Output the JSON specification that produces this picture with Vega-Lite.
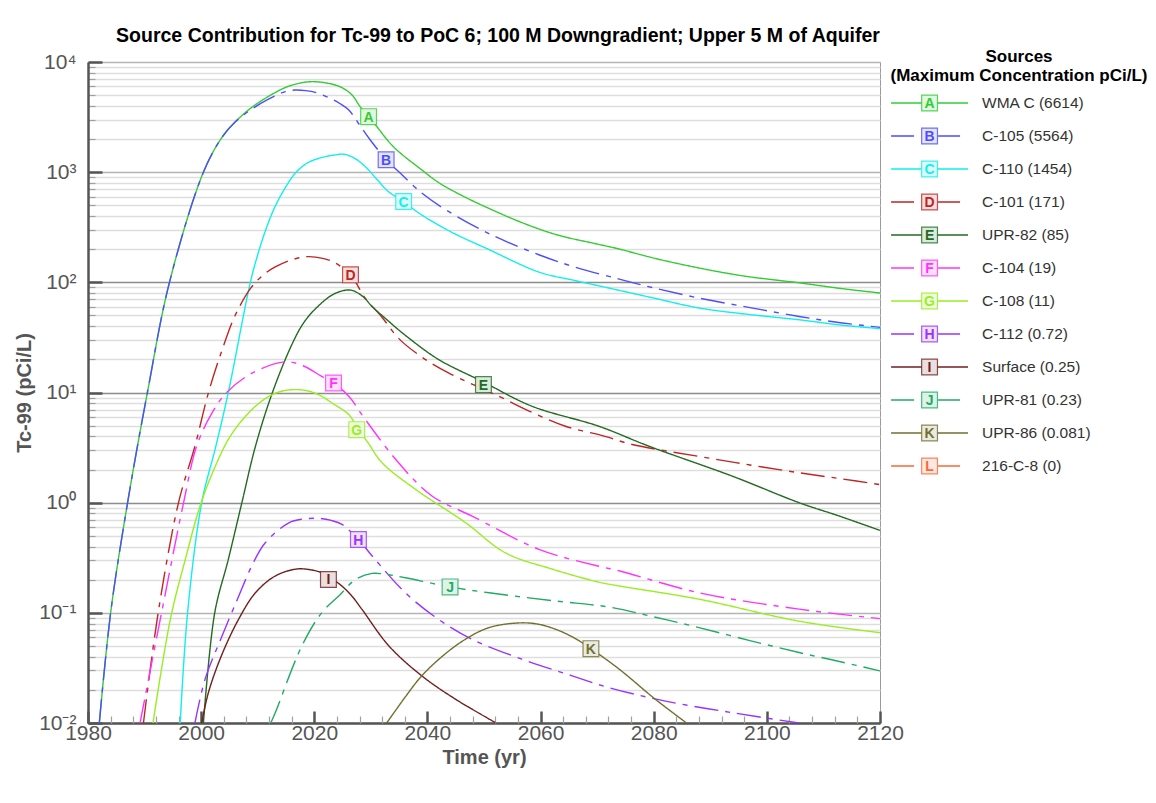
{
  "$schema": "https://vega.github.io/schema/vega-lite/v6.json",
  "background": "white",
  "padding": {"left": 14, "top": 25, "right": 0, "bottom": 0},
  "bounds": "flush",
  "spacing": 9,
  "config": {"font": "Liberation Sans", "view": {"stroke": null}},
  "datasets": {
    "curves": [
      {"s":"A","year":1982.0,"c":0.01},{"s":"A","year":1984.0,"c":0.1},{"s":"A","year":1987.0,"c":1},{"s":"A","year":1990.5,"c":10},{"s":"A","year":1994.4,"c":100},{"s":"A","year":2000.4,"c":1000},{"s":"A","year":2003.6,"c":2040},{"s":"A","year":2006.0,"c":2850},{"s":"A","year":2009.0,"c":3890},{"s":"A","year":2013.0,"c":5250},{"s":"A","year":2015.5,"c":6030},{"s":"A","year":2019.0,"c":6614},{"s":"A","year":2022.5,"c":6400},{"s":"A","year":2024.9,"c":5850},{"s":"A","year":2026.7,"c":5000},{"s":"A","year":2028.1,"c":3935},{"s":"A","year":2030.8,"c":2690},{"s":"A","year":2034.0,"c":1700},{"s":"A","year":2039.0,"c":1048},{"s":"A","year":2042.0,"c":804},{"s":"A","year":2046.0,"c":617},{"s":"A","year":2050.9,"c":468},{"s":"A","year":2057.3,"c":339},{"s":"A","year":2063.0,"c":269},{"s":"A","year":2070.3,"c":221},{"s":"A","year":2074.0,"c":200},{"s":"A","year":2080.0,"c":166},{"s":"A","year":2088.0,"c":135},{"s":"A","year":2096.0,"c":114},{"s":"A","year":2105.7,"c":99},{"s":"A","year":2113.0,"c":88},{"s":"A","year":2120.0,"c":80},
      {"s":"B","year":1982.0,"c":0.01},{"s":"B","year":1984.0,"c":0.1},{"s":"B","year":1987.0,"c":1},{"s":"B","year":1990.5,"c":10},{"s":"B","year":1994.4,"c":100},{"s":"B","year":2000.4,"c":1000},{"s":"B","year":2003.6,"c":2040},{"s":"B","year":2006.0,"c":2850},{"s":"B","year":2009.0,"c":3750},{"s":"B","year":2011.9,"c":4600},{"s":"B","year":2014.5,"c":5300},{"s":"B","year":2016.6,"c":5564},{"s":"B","year":2018.5,"c":5500},{"s":"B","year":2020.2,"c":5300},{"s":"B","year":2022.8,"c":4680},{"s":"B","year":2024.5,"c":4200},{"s":"B","year":2026.1,"c":3670},{"s":"B","year":2027.8,"c":2780},{"s":"B","year":2029.9,"c":1960},{"s":"B","year":2032.7,"c":1300},{"s":"B","year":2034.9,"c":1014},{"s":"B","year":2039.0,"c":646},{"s":"B","year":2043.2,"c":457},{"s":"B","year":2051.0,"c":275},{"s":"B","year":2059.7,"c":178},{"s":"B","year":2066.0,"c":138},{"s":"B","year":2073.9,"c":107},{"s":"B","year":2080.0,"c":89},{"s":"B","year":2088.0,"c":72},{"s":"B","year":2097.0,"c":59},{"s":"B","year":2105.7,"c":49},{"s":"B","year":2113.0,"c":43},{"s":"B","year":2120.0,"c":39},
      {"s":"C","year":1996.3,"c":0.01},{"s":"C","year":1997.6,"c":0.1},{"s":"C","year":2000.1,"c":1},{"s":"C","year":2002.6,"c":3.25},{"s":"C","year":2004.8,"c":10},{"s":"C","year":2008.7,"c":100},{"s":"C","year":2010.0,"c":178},{"s":"C","year":2011.3,"c":288},{"s":"C","year":2013.0,"c":479},{"s":"C","year":2015.0,"c":741},{"s":"C","year":2016.8,"c":1000},{"s":"C","year":2019.0,"c":1230},{"s":"C","year":2021.5,"c":1365},{"s":"C","year":2023.5,"c":1430},{"s":"C","year":2025.2,"c":1454},{"s":"C","year":2027.0,"c":1350},{"s":"C","year":2029.0,"c":1125},{"s":"C","year":2031.0,"c":870},{"s":"C","year":2033.1,"c":667},{"s":"C","year":2035.8,"c":541},{"s":"C","year":2038.5,"c":425},{"s":"C","year":2044.0,"c":290},{"s":"C","year":2050.9,"c":198},{"s":"C","year":2059.7,"c":124},{"s":"C","year":2066.0,"c":104},{"s":"C","year":2070.3,"c":93},{"s":"C","year":2080.0,"c":72},{"s":"C","year":2088.0,"c":58.5},{"s":"C","year":2097.0,"c":51},{"s":"C","year":2105.7,"c":45.7},{"s":"C","year":2113.0,"c":41},{"s":"C","year":2120.0,"c":38},
      {"s":"D","year":1989.8,"c":0.01},{"s":"D","year":1992.4,"c":0.1},{"s":"D","year":1996.0,"c":1},{"s":"D","year":1998.9,"c":3.25},{"s":"D","year":2001.3,"c":10},{"s":"D","year":2003.9,"c":26},{"s":"D","year":2006.0,"c":50},{"s":"D","year":2008.8,"c":89},{"s":"D","year":2011.0,"c":117},{"s":"D","year":2013.1,"c":138},{"s":"D","year":2016.0,"c":160},{"s":"D","year":2018.7,"c":171},{"s":"D","year":2021.5,"c":165},{"s":"D","year":2023.7,"c":150},{"s":"D","year":2026.4,"c":117},{"s":"D","year":2029.0,"c":72},{"s":"D","year":2032.0,"c":48},{"s":"D","year":2034.9,"c":31},{"s":"D","year":2039.0,"c":21},{"s":"D","year":2043.8,"c":15},{"s":"D","year":2052.6,"c":9.25},{"s":"D","year":2058.5,"c":6.6},{"s":"D","year":2064.4,"c":4.94},{"s":"D","year":2071.4,"c":4.0},{"s":"D","year":2076.2,"c":3.37},{"s":"D","year":2088.0,"c":2.63},{"s":"D","year":2097.0,"c":2.2},{"s":"D","year":2105.7,"c":1.87},{"s":"D","year":2113.0,"c":1.65},{"s":"D","year":2120.0,"c":1.46},
      {"s":"E","year":2000.4,"c":0.01},{"s":"E","year":2002.4,"c":0.1},{"s":"E","year":2004.8,"c":0.305},{"s":"E","year":2007.2,"c":1},{"s":"E","year":2009.6,"c":3.25},{"s":"E","year":2012.6,"c":10},{"s":"E","year":2016.0,"c":27},{"s":"E","year":2018.0,"c":42},{"s":"E","year":2020.2,"c":57.5},{"s":"E","year":2023.5,"c":78.5},{"s":"E","year":2026.4,"c":85},{"s":"E","year":2028.5,"c":75},{"s":"E","year":2030.2,"c":60.5},{"s":"E","year":2033.0,"c":45},{"s":"E","year":2036.1,"c":33},{"s":"E","year":2042.0,"c":19.9},{"s":"E","year":2049.7,"c":12.6},{"s":"E","year":2058.5,"c":7.5},{"s":"E","year":2070.3,"c":4.94},{"s":"E","year":2079.2,"c":3.25},{"s":"E","year":2093.9,"c":1.74},{"s":"E","year":2105.7,"c":1.0},{"s":"E","year":2113.0,"c":0.75},{"s":"E","year":2120.0,"c":0.56},
      {"s":"F","year":1989.2,"c":0.01},{"s":"F","year":1993.0,"c":0.1},{"s":"F","year":1996.9,"c":1},{"s":"F","year":1999.2,"c":3.25},{"s":"F","year":2001.9,"c":6.5},{"s":"F","year":2004.5,"c":10},{"s":"F","year":2009.0,"c":15},{"s":"F","year":2014.9,"c":19},{"s":"F","year":2018.0,"c":17.5},{"s":"F","year":2021.3,"c":14},{"s":"F","year":2023.4,"c":12.2},{"s":"F","year":2026.1,"c":9.25},{"s":"F","year":2029.0,"c":5.7},{"s":"F","year":2034.9,"c":2.3},{"s":"F","year":2040.8,"c":1.15},{"s":"F","year":2047.9,"c":0.755},{"s":"F","year":2059.7,"c":0.377},{"s":"F","year":2070.3,"c":0.265},{"s":"F","year":2074.0,"c":0.24},{"s":"F","year":2088.0,"c":0.152},{"s":"F","year":2105.7,"c":0.108},{"s":"F","year":2120.0,"c":0.0886},
      {"s":"G","year":1991.5,"c":0.01},{"s":"G","year":1992.7,"c":0.025},{"s":"G","year":1994.8,"c":0.1},{"s":"G","year":1997.2,"c":0.305},{"s":"G","year":1999.8,"c":0.93},{"s":"G","year":2002.5,"c":2.14},{"s":"G","year":2005.4,"c":4.2},{"s":"G","year":2009.6,"c":7.5},{"s":"G","year":2013.0,"c":9.8},{"s":"G","year":2016.0,"c":10.6},{"s":"G","year":2019.0,"c":10.3},{"s":"G","year":2021.3,"c":9.25},{"s":"G","year":2023.1,"c":8.05},{"s":"G","year":2026.1,"c":6.3},{"s":"G","year":2027.5,"c":4.9},{"s":"G","year":2029.5,"c":3.5},{"s":"G","year":2032.0,"c":2.3},{"s":"G","year":2037.9,"c":1.32},{"s":"G","year":2046.7,"c":0.66},{"s":"G","year":2053.8,"c":0.35},{"s":"G","year":2062.0,"c":0.25},{"s":"G","year":2070.3,"c":0.19},{"s":"G","year":2074.0,"c":0.175},{"s":"G","year":2088.0,"c":0.133},{"s":"G","year":2105.7,"c":0.084},{"s":"G","year":2120.0,"c":0.066},
      {"s":"H","year":1998.9,"c":0.01},{"s":"H","year":2000.7,"c":0.025},{"s":"H","year":2003.6,"c":0.06},{"s":"H","year":2006.6,"c":0.14},{"s":"H","year":2009.0,"c":0.27},{"s":"H","year":2011.3,"c":0.43},{"s":"H","year":2015.5,"c":0.657},{"s":"H","year":2018.0,"c":0.71},{"s":"H","year":2020.8,"c":0.72},{"s":"H","year":2023.0,"c":0.69},{"s":"H","year":2024.9,"c":0.635},{"s":"H","year":2027.8,"c":0.463},{"s":"H","year":2030.2,"c":0.33},{"s":"H","year":2036.1,"c":0.152},{"s":"H","year":2042.0,"c":0.087},{"s":"H","year":2047.9,"c":0.0575},{"s":"H","year":2056.7,"c":0.038},{"s":"H","year":2065.6,"c":0.0268},{"s":"H","year":2072.0,"c":0.021},{"s":"H","year":2082.1,"c":0.0158},{"s":"H","year":2093.9,"c":0.0124},{"s":"H","year":2105.7,"c":0.01},
      {"s":"I","year":2000.1,"c":0.01},{"s":"I","year":2001.3,"c":0.019},{"s":"I","year":2003.6,"c":0.041},{"s":"I","year":2006.6,"c":0.087},{"s":"I","year":2009.6,"c":0.152},{"s":"I","year":2013.1,"c":0.216},{"s":"I","year":2016.9,"c":0.25},{"s":"I","year":2019.5,"c":0.245},{"s":"I","year":2021.3,"c":0.231},{"s":"I","year":2022.5,"c":0.21},{"s":"I","year":2024.3,"c":0.185},{"s":"I","year":2026.5,"c":0.145},{"s":"I","year":2028.4,"c":0.108},{"s":"I","year":2033.2,"c":0.05},{"s":"I","year":2039.0,"c":0.0268},{"s":"I","year":2045.0,"c":0.0164},{"s":"I","year":2052.0,"c":0.0101},
      {"s":"J","year":2012.3,"c":0.01},{"s":"J","year":2013.1,"c":0.0124},{"s":"J","year":2017.8,"c":0.05},{"s":"J","year":2021.3,"c":0.1},{"s":"J","year":2024.6,"c":0.147},{"s":"J","year":2027.3,"c":0.201},{"s":"J","year":2030.2,"c":0.228},{"s":"J","year":2033.0,"c":0.222},{"s":"J","year":2036.1,"c":0.208},{"s":"J","year":2044.0,"c":0.172},{"s":"J","year":2050.9,"c":0.152},{"s":"J","year":2062.7,"c":0.128},{"s":"J","year":2072.0,"c":0.113},{"s":"J","year":2080.0,"c":0.092},{"s":"J","year":2088.0,"c":0.0735},{"s":"J","year":2097.0,"c":0.056},{"s":"J","year":2105.7,"c":0.0436},{"s":"J","year":2113.0,"c":0.036},{"s":"J","year":2120.0,"c":0.0297},
      {"s":"K","year":2032.8,"c":0.01},{"s":"K","year":2036.0,"c":0.017},{"s":"K","year":2039.0,"c":0.0268},{"s":"K","year":2042.8,"c":0.041},{"s":"K","year":2046.7,"c":0.0575},{"s":"K","year":2050.9,"c":0.0735},{"s":"K","year":2056.2,"c":0.081},{"s":"K","year":2059.5,"c":0.079},{"s":"K","year":2062.7,"c":0.0708},{"s":"K","year":2066.0,"c":0.059},{"s":"K","year":2068.9,"c":0.0473},{"s":"K","year":2073.9,"c":0.0308},{"s":"K","year":2080.3,"c":0.0164},{"s":"K","year":2085.7,"c":0.0101}
    ],
    "labels": [
      {"s":"A","year":2029.6,"c":3190},{"s":"B","year":2032.7,"c":1295},{"s":"C","year":2035.8,"c":541},{"s":"D","year":2026.4,"c":117},{"s":"E","year":2049.9,"c":11.8},{"s":"F","year":2023.4,"c":12.2},{"s":"G","year":2027.5,"c":4.6},{"s":"H","year":2027.8,"c":0.463},{"s":"I","year":2022.5,"c":0.201},{"s":"J","year":2044.0,"c":0.172},{"s":"K","year":2068.9,"c":0.0473}
    ],
    "legend": [
      {"s":"A","name":"WMA C (6614)"},{"s":"B","name":"C-105 (5564)"},{"s":"C","name":"C-110 (1454)"},{"s":"D","name":"C-101 (171)"},{"s":"E","name":"UPR-82 (85)"},{"s":"F","name":"C-104 (19)"},{"s":"G","name":"C-108 (11)"},{"s":"H","name":"C-112 (0.72)"},{"s":"I","name":"Surface (0.25)"},{"s":"J","name":"UPR-81 (0.23)"},{"s":"K","name":"UPR-86 (0.081)"},{"s":"L","name":"216-C-8 (0)"}
    ]
  },
  "resolve": {"scale": {"x": "independent", "y": "independent", "color": "independent", "strokeDash": "independent", "fill": "independent", "stroke": "independent"}},
  "hconcat": [
    {
      "width": 792,
      "height": 661,
      "view": {"stroke": "#9a9a9a", "strokeWidth": 1},
      "title": {"text": "Source Contribution for Tc-99 to PoC 6; 100 M Downgradient; Upper 5 M of Aquifer", "fontSize": 19.5, "fontWeight": "bold", "color": "#000000", "dx": 14, "offset": 5, "font": "Liberation Sans"},
      "resolve": {"axis": {"x": "independent"}},
      "layer": [
        {
          "data": {"name": "curves"},
          "mark": {"type": "line", "strokeWidth": 1.4, "clip": true, "interpolate": "catmull-rom"},
          "encoding": {
            "x": {"field": "year", "type": "quantitative", "scale": {"domain": [1980, 2120], "nice": false, "zero": false},
              "axis": {
                "orient": "bottom",
                "values": [1980,2000,2020,2040,2060,2080,2100,2120],
                "format": "d",
                "tickSize": -12, "tickColor": "#555555", "tickWidth": 2.5,
                "domainColor": "#555555", "domainWidth": 2.5,
                "grid": false,
                "labelFontSize": 21, "labelColor": "#555555", "labelFont": "Liberation Sans", "labelPadding": 11,
                "labelFlush": false, "labelOverlap": false, "labelBound": false,
                "title": "Time (yr)", "titleFontSize": 20, "titleFontWeight": "bold", "titleColor": "#555555", "titleFont": "Liberation Sans", "titlePadding": 4
              }
            },
            "y": {"field": "c", "type": "quantitative", "scale": {"type": "log", "domain": [0.01, 10000], "nice": false},
              "axis": {
                "values": [0.01,0.02,0.03,0.04,0.05,0.06,0.07,0.08,0.09,0.1,0.2,0.3,0.4,0.5,0.6,0.7,0.8,0.9,1,2,3,4,5,6,7,8,9,10,20,30,40,50,60,70,80,90,100,200,300,400,500,600,700,800,900,1000,2000,3000,4000,5000,6000,7000,8000,9000,10000],
                "labelExpr": "abs(log(datum.value)/LN10 - round(log(datum.value)/LN10)) < 0.001 ? ['10⁻²','10⁻¹','10⁰','10¹','10²','10³','10⁴'][round(log(datum.value)/LN10)+2] : ''",
                "tickSize": {"condition": {"test": "abs(log(datum.value)/LN10 - round(log(datum.value)/LN10)) < 0.001", "value": -14}, "value": -7},
                "tickColor": {"condition": {"test": "abs(log(datum.value)/LN10 - round(log(datum.value)/LN10)) < 0.001", "value": "#555555"}, "value": "#a0a0a0"},
                "tickWidth": {"condition": {"test": "abs(log(datum.value)/LN10 - round(log(datum.value)/LN10)) < 0.001", "value": 2.5}, "value": 1.2},
                "domainColor": "#555555", "domainWidth": 2.5,
                "grid": true,
                "gridColor": {"condition": [{"test": "datum.value == 1 || datum.value == 10 || datum.value == 100", "value": "#8c8c8c"}, {"test": "abs(log(datum.value)/LN10 - round(log(datum.value)/LN10)) < 0.001", "value": "#b4b4b4"}], "value": "#dedede"},
                "gridWidth": {"condition": {"test": "abs(log(datum.value)/LN10 - round(log(datum.value)/LN10)) < 0.001", "value": 1.3}, "value": 1.6},
                "labelFontSize": 21, "labelColor": "#555555", "labelFont": "Liberation Sans", "labelPadding": 26,
                "labelFlush": false, "labelOverlap": false, "labelBound": false,
                "title": "Tc-99 (pCi/L)", "titleFontSize": 20, "titleFontWeight": "bold", "titleColor": "#555555", "titleFont": "Liberation Sans", "titlePadding": 4
              }
            },
            "color": {"field": "s", "type": "nominal", "legend": null,
              "scale": {"domain": ["A","B","C","D","E","F","G","H","I","J","K","L"], "range": ["#33cc33","#4d4dff","#11eeee","#c02525","#236b23","#ff33ff","#99ee22","#9933ff","#702020","#22aa66","#707030","#ff6633"]}},
            "strokeDash": {"field": "s", "type": "nominal", "legend": null,
              "scale": {"domain": ["A","B","C","D","E","F","G","H","I","J","K","L"], "range": [[1,0],[24,7,5,7],[1,0],[24,7,5,7],[1,0],[24,7,5,7],[1,0],[24,7,5,7],[1,0],[24,7,5,7],[1,0],[24,7,5,7]]}}
          }
        },
        {
          "data": {"name": "labels"},
          "mark": {"type": "square", "size": 250, "filled": true, "color": "white", "opacity": 1},
          "encoding": {
            "x": {"field": "year", "type": "quantitative",
              "axis": {
                "orient": "bottom",
                "values": [1984,1988,1992,1996,2004,2008,2012,2016,2024,2028,2032,2036,2044,2048,2052,2056,2064,2068,2072,2076,2084,2088,2092,2096,2104,2108,2112,2116],
                "labels": false, "domain": false, "grid": false, "title": null,
                "tickSize": -7, "tickColor": "#a0a0a0", "tickWidth": 1.2
              }
            },
            "y": {"field": "c", "type": "quantitative"}
          }
        },
        {
          "data": {"name": "labels"},
          "mark": {"type": "square", "size": 250, "filled": true, "fillOpacity": 0.15, "strokeWidth": 1.2, "strokeOpacity": 0.8},
          "encoding": {
            "x": {"field": "year", "type": "quantitative", "axis": null},
            "y": {"field": "c", "type": "quantitative"},
            "fill": {"field": "s", "type": "nominal", "legend": null,
              "scale": {"domain": ["A","B","C","D","E","F","G","H","I","J","K","L"], "range": ["#33cc33","#4d4dff","#11eeee","#c02525","#236b23","#ff33ff","#99ee22","#9933ff","#702020","#22aa66","#707030","#ff6633"]}},
            "stroke": {"field": "s", "type": "nominal", "legend": null,
              "scale": {"domain": ["A","B","C","D","E","F","G","H","I","J","K","L"], "range": ["#33cc33","#4d4dff","#11eeee","#c02525","#236b23","#ff33ff","#99ee22","#9933ff","#702020","#22aa66","#707030","#ff6633"]}}
          }
        },
        {
          "data": {"name": "labels"},
          "mark": {"type": "text", "fontSize": 14, "fontWeight": "bold", "align": "center", "baseline": "middle", "dy": 1, "font": "Liberation Sans"},
          "encoding": {
            "x": {"field": "year", "type": "quantitative", "axis": null},
            "y": {"field": "c", "type": "quantitative"},
            "text": {"field": "s"},
            "color": {"field": "s", "type": "nominal", "legend": null}
          }
        }
      ]
    },
    {
      "width": 260,
      "height": 661,
      "view": {"stroke": null},
      "title": {"text": ["Sources", "(Maximum Concentration pCi/L)"], "fontSize": 17, "fontWeight": "bold", "color": "#000000", "anchor": "middle", "offset": -23, "lineHeight": 19, "font": "Liberation Sans"},
      "data": {"name": "legend"},
      "layer": [
        {
          "mark": {"type": "rule", "strokeWidth": 1.4},
          "encoding": {
            "x": {"datum": 0.8, "type": "quantitative", "scale": {"domain": [0, 100], "nice": false, "zero": false}, "axis": null},
            "x2": {"datum": 30.4},
            "y": {"field": "s", "type": "ordinal", "scale": {"type": "point", "padding": 0, "domain": ["A","B","C","D","E","F","G","H","I","J","K","L"], "range": [41, 404]}, "axis": null},
            "color": {"field": "s", "type": "nominal", "legend": null,
              "scale": {"domain": ["A","B","C","D","E","F","G","H","I","J","K","L"], "range": ["#33cc33","#4d4dff","#11eeee","#c02525","#236b23","#ff33ff","#99ee22","#9933ff","#702020","#22aa66","#707030","#ff6633"]}},
            "strokeDash": {"field": "s", "type": "nominal", "legend": null,
              "scale": {"domain": ["A","B","C","D","E","F","G","H","I","J","K","L"], "range": [[1,0],[23,24,22,100],[1,0],[23,24,22,100],[1,0],[23,24,22,100],[1,0],[23,24,22,100],[1,0],[23,24,22,100],[1,0],[23,24,22,100]]}}
          }
        },
        {
          "mark": {"type": "square", "size": 250, "filled": true, "color": "white", "opacity": 1},
          "encoding": {
            "x": {"datum": 15.6, "type": "quantitative"},
            "y": {"field": "s", "type": "ordinal"}
          }
        },
        {
          "mark": {"type": "square", "size": 250, "filled": true, "fillOpacity": 0.15, "strokeWidth": 1.2, "strokeOpacity": 0.8},
          "encoding": {
            "x": {"datum": 15.6, "type": "quantitative"},
            "y": {"field": "s", "type": "ordinal"},
            "fill": {"field": "s", "type": "nominal", "legend": null,
              "scale": {"domain": ["A","B","C","D","E","F","G","H","I","J","K","L"], "range": ["#33cc33","#4d4dff","#11eeee","#c02525","#236b23","#ff33ff","#99ee22","#9933ff","#702020","#22aa66","#707030","#ff6633"]}},
            "stroke": {"field": "s", "type": "nominal", "legend": null,
              "scale": {"domain": ["A","B","C","D","E","F","G","H","I","J","K","L"], "range": ["#33cc33","#4d4dff","#11eeee","#c02525","#236b23","#ff33ff","#99ee22","#9933ff","#702020","#22aa66","#707030","#ff6633"]}}
          }
        },
        {
          "mark": {"type": "text", "fontSize": 14, "fontWeight": "bold", "align": "center", "baseline": "middle", "dy": 1, "font": "Liberation Sans"},
          "encoding": {
            "x": {"datum": 15.6, "type": "quantitative"},
            "y": {"field": "s", "type": "ordinal"},
            "text": {"field": "s"},
            "color": {"field": "s", "type": "nominal", "legend": null}
          }
        },
        {
          "mark": {"type": "text", "fontSize": 15.5, "align": "left", "baseline": "middle", "color": "#333333", "font": "Liberation Sans"},
          "encoding": {
            "x": {"datum": 35.8, "type": "quantitative"},
            "y": {"field": "s", "type": "ordinal"},
            "text": {"field": "name"}
          }
        }
      ]
    }
  ]
}
